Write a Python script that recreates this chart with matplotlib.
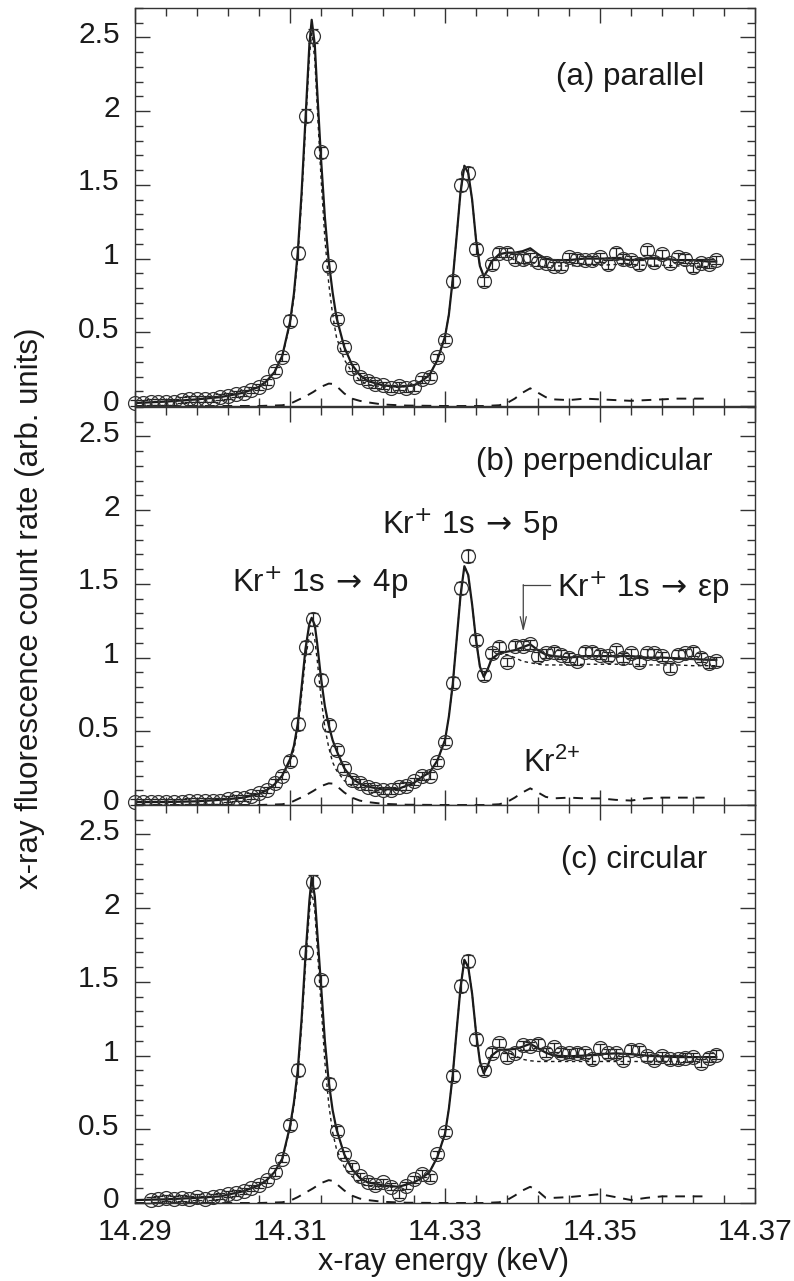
import matplotlib
matplotlib.use("Agg")
import matplotlib.pyplot as plt
from matplotlib.ticker import MultipleLocator, FuncFormatter, FormatStrFormatter
from matplotlib.transforms import ScaledTranslation

plt.rcParams['font.family'] = ['Liberation Sans', 'DejaVu Sans']
plt.rcParams['mathtext.fontset'] = 'custom'
plt.rcParams['mathtext.rm'] = 'Liberation Sans'
plt.rcParams['mathtext.it'] = 'Liberation Sans:italic'
plt.rcParams['mathtext.bf'] = 'Liberation Sans:bold'

# measured points (keV), one every 1 eV
ENERGY = [14.290, 14.291, 14.292, 14.293, 14.294, 14.295, 14.296, 14.297, 14.298, 14.299,
          14.300, 14.301, 14.302, 14.303, 14.304, 14.305, 14.306, 14.307, 14.308, 14.309,
          14.310, 14.311, 14.312, 14.313, 14.314, 14.315, 14.316, 14.317, 14.318, 14.319,
          14.320, 14.321, 14.322, 14.323, 14.324, 14.325, 14.326, 14.327, 14.328, 14.329,
          14.330, 14.331, 14.332, 14.333, 14.334, 14.335, 14.336, 14.337, 14.338, 14.339,
          14.340, 14.341, 14.342, 14.343, 14.344, 14.345, 14.346, 14.347, 14.348, 14.349,
          14.350, 14.351, 14.352, 14.353, 14.354, 14.355, 14.356, 14.357, 14.358, 14.359,
          14.360, 14.361, 14.362, 14.363, 14.364, 14.365]

COUNTS_PAR = [0.02, 0.02, 0.03, 0.03, 0.03, 0.03, 0.04, 0.05, 0.05, 0.05,
              0.05, 0.06, 0.07, 0.08, 0.09, 0.11, 0.13, 0.16, 0.24, 0.33,
              0.58, 1.04, 1.97, 2.51, 1.72, 0.95, 0.59, 0.40, 0.26, 0.20,
              0.17, 0.15, 0.14, 0.12, 0.135, 0.12, 0.127, 0.18, 0.20, 0.33,
              0.45, 0.845, 1.50, 1.58, 1.065, 0.845, 0.96, 1.04, 1.04, 1.00,
              1.00, 1.01, 0.98, 0.97, 0.95, 0.95, 1.01, 1.00, 0.99, 0.99,
              1.01, 0.96, 1.04, 1.00, 0.99, 0.96, 1.055, 0.98, 1.03, 0.97,
              1.01, 1.00, 0.94, 0.97, 0.965, 0.99]

COUNTS_PERP = [0.02, 0.02, 0.02, 0.02, 0.02, 0.02, 0.02, 0.025, 0.025, 0.025,
               0.03, 0.03, 0.04, 0.045, 0.05, 0.06, 0.08, 0.10, 0.15, 0.20,
               0.30, 0.55, 1.07, 1.26, 0.85, 0.54, 0.37, 0.25, 0.17, 0.15,
               0.125, 0.11, 0.10, 0.10, 0.125, 0.13, 0.16, 0.197, 0.20, 0.29,
               0.43, 0.83, 1.47, 1.69, 1.12, 0.88, 1.03, 1.075, 0.97, 1.08,
               1.08, 1.09, 1.01, 1.03, 1.04, 1.02, 1.00, 0.98, 1.04, 1.04,
               1.02, 1.01, 1.05, 1.00, 1.03, 0.97, 1.03, 1.03, 1.01, 0.93,
               1.02, 1.03, 1.04, 1.00, 0.96, 0.975]

# circular scan starts at 14.292
COUNTS_CIRC = [0.02, 0.025, 0.036, 0.025, 0.036, 0.025, 0.04, 0.03,
               0.04, 0.045, 0.06, 0.07, 0.08, 0.10, 0.12, 0.156, 0.21, 0.30,
               0.53, 0.90, 1.70, 2.18, 1.51, 0.81, 0.49, 0.33, 0.245, 0.18,
               0.145, 0.12, 0.14, 0.11, 0.06, 0.118, 0.16, 0.20, 0.175, 0.33,
               0.48, 0.86, 1.47, 1.64, 1.11, 0.90, 1.02, 1.085, 0.99, 1.02,
               1.07, 1.065, 1.08, 1.02, 1.055, 1.02, 1.015, 1.02, 1.015, 0.975,
               1.05, 1.015, 1.015, 0.97, 1.04, 1.035, 0.995, 0.97, 0.995, 0.975,
               0.975, 0.985, 0.99, 0.95, 0.985, 1.005]

ERR = [0.02, 0.02, 0.02, 0.02, 0.02, 0.02, 0.02, 0.02, 0.02, 0.02,
       0.02, 0.02, 0.02, 0.02, 0.02, 0.02, 0.02, 0.02, 0.025, 0.025,
       0.035, 0.04, 0.045, 0.045, 0.04, 0.035, 0.03, 0.025, 0.025, 0.025,
       0.025, 0.025, 0.025, 0.025, 0.025, 0.025, 0.025, 0.025, 0.025, 0.025,
       0.025, 0.035, 0.04, 0.04, 0.035, 0.03, 0.03, 0.03, 0.03, 0.03,
       0.03, 0.03, 0.03, 0.03, 0.03, 0.03, 0.03, 0.03, 0.03, 0.03,
       0.03, 0.03, 0.03, 0.03, 0.03, 0.03, 0.03, 0.03, 0.03, 0.03,
       0.03, 0.03, 0.03, 0.03, 0.03, 0.03]

# fit curves
FIT_X = [14.290, 14.294, 14.298, 14.301, 14.304, 14.306, 14.307, 14.308, 14.309, 14.310,
         14.3105, 14.311, 14.3115, 14.312, 14.3125, 14.3128, 14.3132, 14.3135, 14.314, 14.3145,
         14.315, 14.3155, 14.316, 14.317, 14.318, 14.319, 14.320, 14.322, 14.324, 14.326,
         14.327, 14.328, 14.329, 14.330, 14.3305, 14.331, 14.3315, 14.332, 14.3325, 14.333,
         14.3335, 14.334, 14.3345, 14.335, 14.3355, 14.336, 14.337, 14.338, 14.339, 14.340,
         14.341, 14.342, 14.343, 14.344, 14.346, 14.348, 14.350, 14.352, 14.354, 14.356,
         14.358, 14.360, 14.362, 14.364, 14.365]

FIT_PAR = [0.02, 0.03, 0.045, 0.06, 0.09, 0.13, 0.17, 0.23, 0.34, 0.57,
           0.76, 1.04, 1.45, 1.95, 2.45, 2.62, 2.45, 2.15, 1.68, 1.28,
           0.98, 0.77, 0.60, 0.40, 0.28, 0.21, 0.17, 0.14, 0.13, 0.14,
           0.17, 0.21, 0.31, 0.47, 0.62, 0.86, 1.15, 1.45, 1.63, 1.58,
           1.40, 1.13, 0.95, 0.88, 0.92, 0.98, 1.03, 1.04, 1.04, 1.05,
           1.07, 1.03, 1.00, 0.99, 0.99, 1.00, 1.00, 1.00, 0.99, 1.00,
           1.00, 0.99, 0.99, 0.98, 0.98]
KR1_PAR = [0.02, 0.03, 0.045, 0.06, 0.09, 0.13, 0.17, 0.23, 0.335, 0.555,
           0.735, 1.0, 1.40, 1.885, 2.37, 2.53, 2.35, 2.04, 1.55, 1.135,
           0.83, 0.62, 0.465, 0.315, 0.23, 0.175, 0.145, 0.13, 0.127, 0.14,
           0.17, 0.21, 0.31, 0.47, 0.62, 0.86, 1.15, 1.45, 1.63, 1.58,
           1.40, 1.13, 0.95, 0.88, 0.92, 0.98, 1.025, 1.02, 0.99, 0.96,
           0.95, 0.95, 0.95, 0.95, 0.95, 0.955, 0.955, 0.96, 0.955, 0.955,
           0.955, 0.95, 0.95, 0.945, 0.945]

FIT_PERP = [0.02, 0.02, 0.025, 0.035, 0.05, 0.075, 0.10, 0.14, 0.20, 0.31,
            0.40, 0.55, 0.80, 1.06, 1.23, 1.27, 1.22, 1.10, 0.86, 0.67,
            0.54, 0.44, 0.37, 0.25, 0.18, 0.145, 0.125, 0.105, 0.11, 0.15,
            0.19, 0.22, 0.30, 0.44, 0.60, 0.82, 1.12, 1.42, 1.62, 1.56,
            1.36, 1.12, 0.94, 0.87, 0.92, 0.99, 1.03, 1.04, 1.05, 1.07,
            1.09, 1.05, 1.02, 1.01, 1.00, 1.01, 1.01, 1.01, 1.01, 1.00,
            1.00, 0.995, 0.99, 0.985, 0.985]
KR1_PERP = [0.02, 0.02, 0.025, 0.035, 0.05, 0.075, 0.10, 0.14, 0.195, 0.295,
            0.375, 0.51, 0.75, 0.995, 1.15, 1.18, 1.12, 0.99, 0.73, 0.525,
            0.39, 0.29, 0.235, 0.165, 0.13, 0.11, 0.10, 0.095, 0.107, 0.15,
            0.19, 0.22, 0.30, 0.44, 0.60, 0.82, 1.12, 1.42, 1.62, 1.56,
            1.36, 1.12, 0.94, 0.87, 0.92, 0.99, 1.025, 1.02, 1.00, 0.975,
            0.965, 0.955, 0.95, 0.95, 0.95, 0.955, 0.955, 0.955, 0.955, 0.95,
            0.95, 0.95, 0.945, 0.945, 0.945]

FIT_CIRC = [0.02, 0.025, 0.035, 0.045, 0.08, 0.12, 0.155, 0.21, 0.30, 0.52,
            0.68, 0.90, 1.25, 1.68, 2.05, 2.21, 2.08, 1.85, 1.48, 1.10,
            0.82, 0.63, 0.50, 0.33, 0.23, 0.17, 0.14, 0.12, 0.11, 0.14,
            0.17, 0.21, 0.31, 0.47, 0.64, 0.87, 1.17, 1.46, 1.65, 1.60,
            1.42, 1.16, 0.96, 0.88, 0.93, 1.00, 1.04, 1.04, 1.045, 1.06,
            1.08, 1.05, 1.02, 1.00, 0.995, 1.00, 1.01, 1.015, 1.01, 1.00,
            0.995, 0.99, 0.99, 0.99, 0.99]
KR1_CIRC = [0.02, 0.025, 0.035, 0.045, 0.08, 0.12, 0.155, 0.21, 0.295, 0.505,
            0.655, 0.86, 1.20, 1.615, 1.97, 2.12, 1.98, 1.74, 1.35, 0.955,
            0.67, 0.48, 0.365, 0.245, 0.18, 0.135, 0.115, 0.11, 0.107, 0.14,
            0.17, 0.21, 0.31, 0.47, 0.64, 0.87, 1.17, 1.46, 1.65, 1.60,
            1.42, 1.16, 0.96, 0.88, 0.93, 1.00, 1.035, 1.02, 1.0, 0.975,
            0.965, 0.96, 0.96, 0.96, 0.96, 0.96, 0.96, 0.96, 0.96, 0.96,
            0.96, 0.96, 0.955, 0.955, 0.955]

# Kr2+ contribution
KR2_X = [14.290, 14.300, 14.306, 14.309, 14.310, 14.311, 14.312, 14.313, 14.314, 14.315,
         14.3155, 14.316, 14.317, 14.318, 14.319, 14.320, 14.322, 14.325, 14.330, 14.335,
         14.337, 14.338, 14.339, 14.340, 14.341, 14.342, 14.343, 14.344, 14.346, 14.348,
         14.350, 14.352, 14.354, 14.356, 14.358, 14.360, 14.3635]
KR2_PAR = [0.0, 0.0, 0.0, 0.005, 0.015, 0.04, 0.065, 0.095, 0.13, 0.152,
           0.15, 0.135, 0.085, 0.05, 0.035, 0.025, 0.01, 0.003, 0.0, 0.0,
           0.005, 0.02, 0.05, 0.09, 0.12, 0.09, 0.06, 0.045, 0.04, 0.05,
           0.045, 0.04, 0.035, 0.04, 0.045, 0.05, 0.05]
KR2_PERP = [0.0, 0.0, 0.0, 0.005, 0.015, 0.04, 0.065, 0.095, 0.128, 0.147,
            0.145, 0.13, 0.085, 0.05, 0.03, 0.02, 0.008, 0.002, 0.0, 0.0,
            0.005, 0.02, 0.05, 0.085, 0.113, 0.085, 0.055, 0.045, 0.05, 0.045,
            0.045, 0.035, 0.03, 0.045, 0.05, 0.05, 0.05]
KR2_CIRC = [0.0, 0.0, 0.0, 0.005, 0.015, 0.04, 0.07, 0.10, 0.135, 0.155,
            0.15, 0.13, 0.085, 0.05, 0.03, 0.02, 0.008, 0.002, 0.0, 0.0,
            0.005, 0.02, 0.05, 0.085, 0.11, 0.08, 0.035, 0.035, 0.04, 0.05,
            0.06, 0.04, 0.02, 0.035, 0.045, 0.045, 0.045]

PANEL_LABELS = ['(a) parallel', '(b) perpendicular', '(c) circular']

panels = [
    (ENERGY, COUNTS_PAR, ERR, FIT_PAR, KR1_PAR, KR2_PAR),
    (ENERGY, COUNTS_PERP, ERR, FIT_PERP, KR1_PERP, KR2_PERP),
    (ENERGY[2:], COUNTS_CIRC, ERR[2:], FIT_CIRC, KR1_CIRC, KR2_CIRC),
]

FS_TICK = 21.5
FS = 22.5
INK = '#1a1a1a'

fig = plt.figure(figsize=(7.94, 12.81), dpi=100)
left, width = 135 / 794, 620 / 794
height = 398 / 1281
bottoms = [1 - 406 / 1281, 1 - 805 / 1281, 1 - 1203 / 1281]

axes = []
for i, (x, y, e, fit, kr1, kr2) in enumerate(panels):
    ax = fig.add_axes([left, bottoms[i], width, height])
    ax.plot(FIT_X[5:], kr1[5:], color=INK, lw=1.0, dashes=(2.5, 2.5))
    ax.plot(KR2_X, kr2, color=INK, lw=1.4, dashes=(5, 4))
    ax.plot(FIT_X, fit, color=INK, lw=1.6)
    ax.errorbar(x, y, yerr=e, fmt='o', ms=10, mfc='none', mec='#333', mew=0.9,
                ecolor='#222', elinewidth=0.9, capsize=3.5, capthick=0.9, clip_on=False)

    ax.set_xlim(14.29, 14.37)
    ax.set_ylim(0, 2.7)
    ax.xaxis.set_major_locator(MultipleLocator(0.02, offset=0.01))
    ax.xaxis.set_minor_locator(MultipleLocator(0.004, offset=0.002))
    ax.yaxis.set_major_locator(MultipleLocator(0.5))
    ax.yaxis.set_minor_locator(MultipleLocator(0.1))
    ax.yaxis.set_major_formatter(FuncFormatter(lambda v, p: f"{v:g}"))
    ax.xaxis.set_major_formatter(FormatStrFormatter('%.2f'))
    ax.tick_params(which='both', direction='in', top=True, right=True,
                   labelsize=FS_TICK, width=1.0, color='#333', labelcolor=INK)
    ax.tick_params(which='major', length=11)
    ax.tick_params(which='minor', length=6)
    ax.tick_params(axis='y', pad=11)
    ax.tick_params(axis='x', pad=11)
    if i < 2:
        ax.tick_params(labelbottom=False)
    for s in ax.spines.values():
        s.set_color('#333')
        s.set_linewidth(1.0)
    axes.append(ax)

axes[0].text(14.3635, 2.23, PANEL_LABELS[0], ha='right', va='center', fontsize=FS, color=INK)
axes[1].text(14.3645, 2.33, PANEL_LABELS[1], ha='right', va='center', fontsize=FS, color=INK)
axes[2].text(14.3638, 2.33, PANEL_LABELS[2], ha='right', va='center', fontsize=FS, color=INK)

ax = axes[1]
ax.text(14.3025, 1.51, r'Kr$^{+}$ 1s$\,\rightarrow\,$4p', ha='left', va='center',
        fontsize=FS, color=INK, math_fontfamily='dejavusans')
ax.text(14.3219, 1.90, r'Kr$^{+}$ 1s$\,\rightarrow\,$5p', ha='left', va='center',
        fontsize=FS, color=INK, math_fontfamily='dejavusans')
ax.text(14.3445, 1.47, 'Kr$^{+}$ 1s$\\,\\rightarrow\\,$\u03b5p', ha='left', va='center',
        fontsize=FS, color=INK, math_fontfamily='dejavusans')
ax.text(14.3400, 0.285, r'Kr$^{2{+}}$', ha='left', va='center', fontsize=FS, color=INK)
ax.plot([14.3401, 14.3436], [1.495, 1.495], color='#444', lw=0.9)
ax.annotate('', xy=(14.3401, 1.175), xytext=(14.3401, 1.495),
            arrowprops=dict(arrowstyle='->,head_length=0.9,head_width=0.22',
                            color='#444', lw=0.9, shrinkA=0, shrinkB=0))

fig.text(30 / 794, 1 - 608 / 1281, 'x-ray fluorescence count rate (arb. units)',
         rotation=90, ha='center', va='center', fontsize=FS, color=INK)
fig.text(443 / 794, 1 - 1262 / 1281, 'x-ray energy (keV)',
         ha='center', va='center', fontsize=FS - 0.5, color=INK)

# the y tick numbers sit a little above their ticks in the original
fig.canvas.draw()
lift = ScaledTranslation(0, 4 / 72, fig.dpi_scale_trans)
for ax in axes:
    for tick in ax.yaxis.get_major_ticks():
        tick.label1.set_transform(tick.label1.get_transform() + lift)

fig.savefig('out.png', dpi=100)
